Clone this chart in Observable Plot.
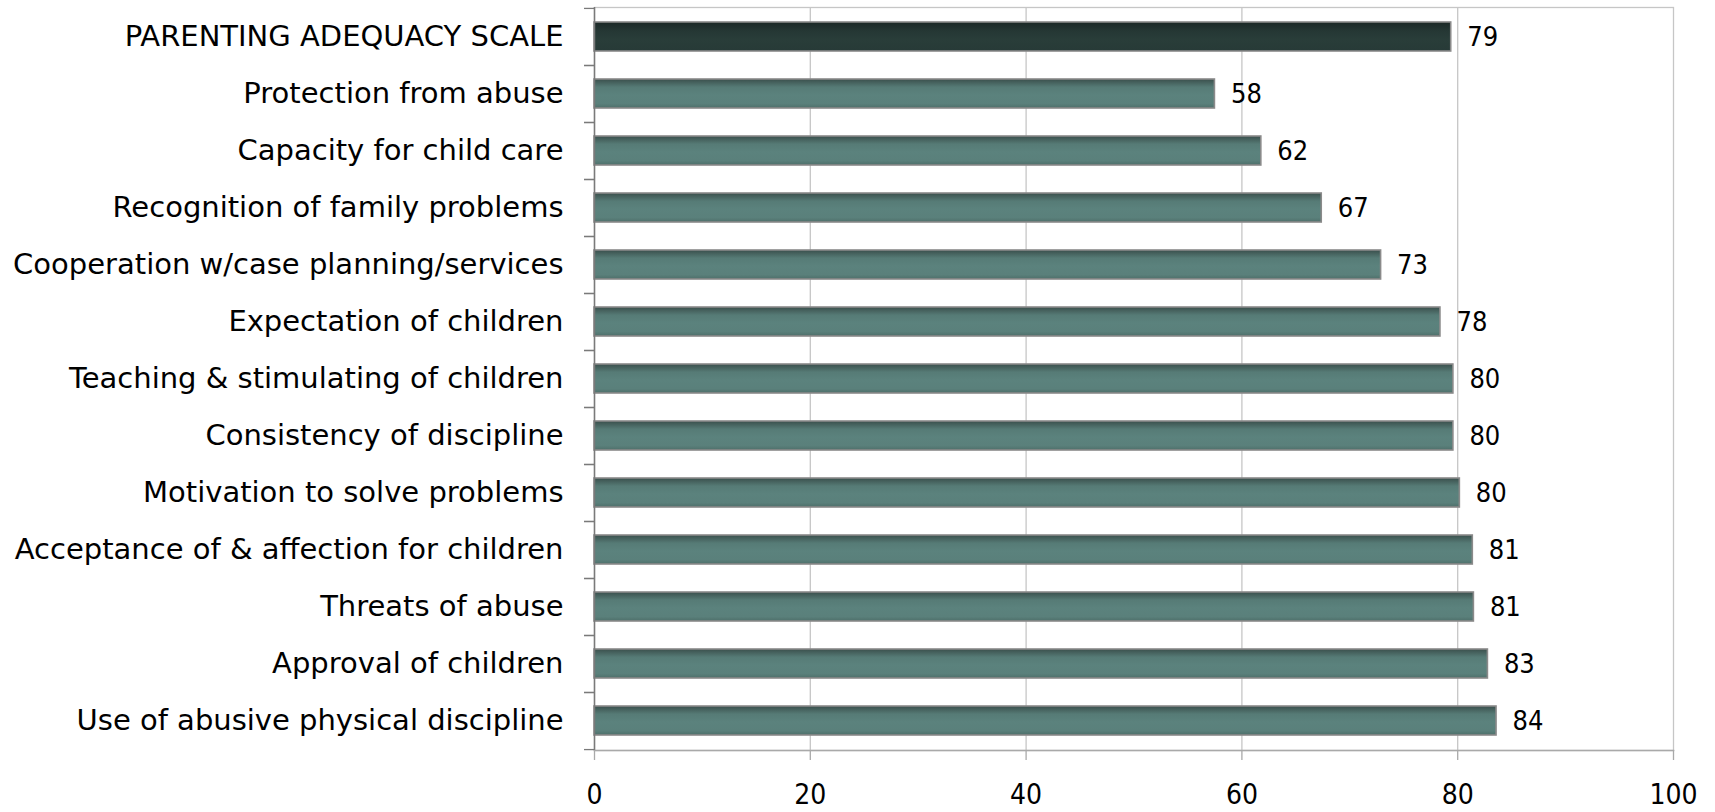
<!DOCTYPE html>
<html><head><meta charset="utf-8">
<script src="https://cdn.jsdelivr.net/npm/d3@7"></script>
<script src="https://cdn.jsdelivr.net/npm/@observablehq/plot@0.6"></script>
<style>body{margin:0;background:#fff}</style>
</head><body>
<div id="chart"></div>
<script>
const categories = [
  "PARENTING ADEQUACY SCALE",
  "Protection from abuse",
  "Capacity for child care",
  "Recognition of family problems",
  "Cooperation w/case planning/services",
  "Expectation of children",
  "Teaching & stimulating of children",
  "Consistency of discipline",
  "Motivation to solve problems",
  "Acceptance of & affection for children",
  "Threats of abuse",
  "Approval of children",
  "Use of abusive physical discipline"
];
const values = [79.4, 57.5, 61.8, 67.4, 72.9, 78.4, 79.6, 79.6, 80.2, 81.4, 81.5, 82.8, 83.6];
const valueLabels = ["79", "58", "62", "67", "73", "78", "80", "80", "80", "81", "81", "83", "84"];
const xTicks = [0, 20, 40, 60, 80, 100];
const gridTicks = [20, 40, 60, 80];

const data = categories.map((c, i) => ({category: c, value: values[i], label: valueLabels[i]}));

const W = 1715, H = 812;
const mT = 7, mB = 62, mL = 594, mR = 42;
const step = (H - mT - mB) / categories.length;
const labelFont = "DejaVu Sans";
const numFont = "DejaVu Sans Condensed";

const chart = Plot.plot({
  width: W,
  height: H,
  marginTop: mT,
  marginBottom: mB,
  marginLeft: mL,
  marginRight: mR,
  style: {background: "#fff", color: "#000"},
  x: {domain: [0, 100]},
  y: {domain: categories, paddingInner: 0.5, paddingOuter: 0.25},
  marks: [
    Plot.gridX(gridTicks, {stroke: "#c6c6c6", strokeOpacity: 1, strokeWidth: 1.3}),
    Plot.frame({stroke: "#c6c6c6", strokeWidth: 1.3}),
    Plot.frame({anchor: "bottom", stroke: "#a9a9a9", strokeWidth: 1.5}),
    Plot.barX(data, {
      x: "value",
      y: "category",
      fill: d => d.category === categories[0] ? "url(#gradDark)" : "url(#gradTeal)",
      stroke: "#8a8a8a",
      strokeWidth: 1.6
    }),
    Plot.text(data, {
      x: "value",
      y: "category",
      text: "label",
      textAnchor: "start",
      dx: 16,
      fontSize: 27,
      fontFamily: numFont,
      fill: "#000"
    }),
    Plot.ruleX([0], {stroke: "#7a7a7a", strokeWidth: 1.5}),
    Plot.axisX(xTicks, {
      tickSize: 10,
      tickPadding: 24,
      stroke: "#a9a9a9",
      strokeWidth: 1.3,
      fill: "#000",
      fontSize: 28,
      fontFamily: numFont,
      label: null
    }),
    Plot.axisY({
      tickSize: 10,
      tickFormat: () => "",
      dy: -step / 2,
      stroke: "#7a7a7a",
      strokeWidth: 1.3,
      label: null
    }),
    Plot.axisY({
      tickSize: 10,
      tickFormat: () => "",
      dy: step / 2,
      stroke: "#7a7a7a",
      strokeWidth: 1.3,
      label: null
    }),
    Plot.axisY({
      tickSize: 0,
      tickPadding: 31,
      fill: "#000",
      fontSize: 29,
      fontFamily: labelFont,
      label: null
    })
  ]
});

// bar shading gradients
const ns = "http://www.w3.org/2000/svg";
const defs = document.createElementNS(ns, "defs");
function grad(id, stops) {
  const g = document.createElementNS(ns, "linearGradient");
  g.setAttribute("id", id);
  g.setAttribute("x1", "0"); g.setAttribute("y1", "0");
  g.setAttribute("x2", "0"); g.setAttribute("y2", "1");
  for (const [o, c] of stops) {
    const s = document.createElementNS(ns, "stop");
    s.setAttribute("offset", o);
    s.setAttribute("stop-color", c);
    g.appendChild(s);
  }
  defs.appendChild(g);
}
grad("gradTeal", [["0", "#3a4f4c"], ["0.28", "#567b76"], ["0.55", "#5b827d"], ["0.85", "#5a807b"], ["1", "#4e6f6a"]]);
grad("gradDark", [["0", "#1b2826"], ["0.3", "#253734"], ["0.6", "#293d39"], ["1", "#273a37"]]);
chart.insertBefore(defs, chart.firstChild);

document.getElementById("chart").appendChild(chart);
</script></body></html>
